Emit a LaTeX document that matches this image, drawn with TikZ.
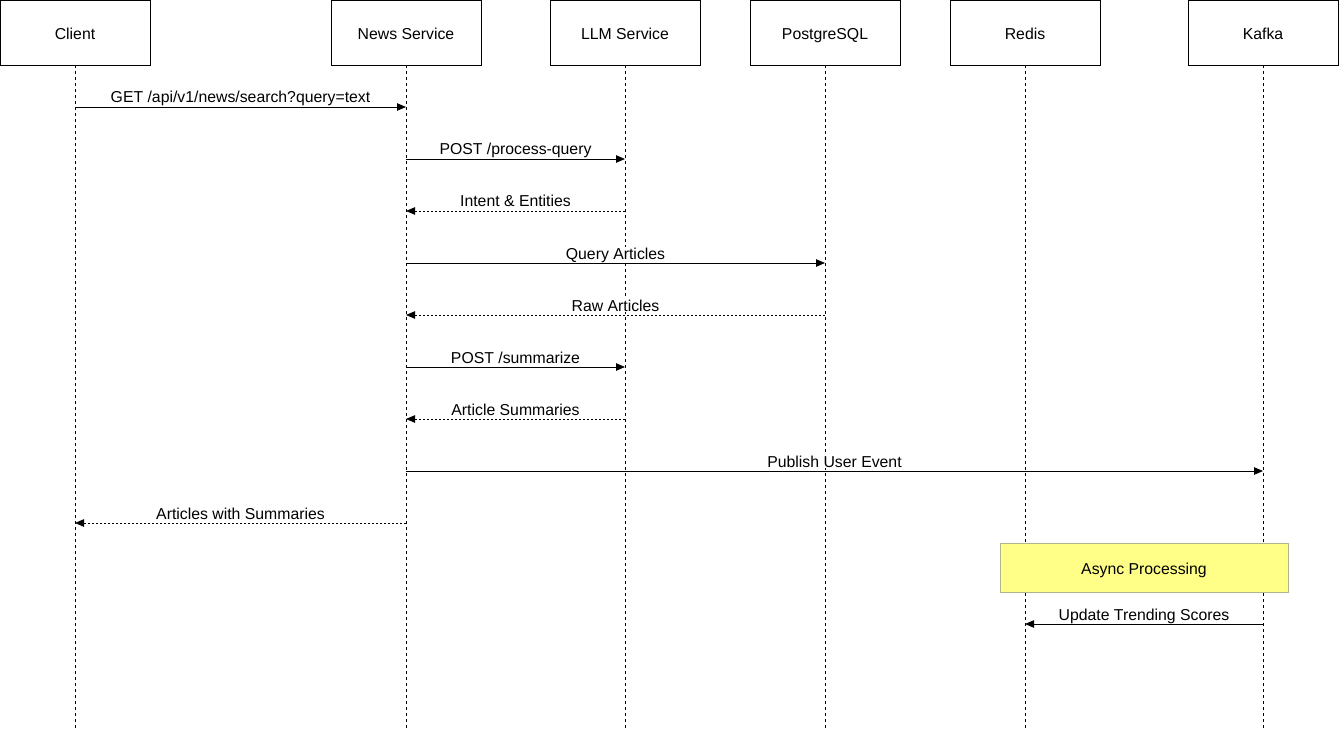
\documentclass[tikz,border=0pt]{standalone}
\usepackage{fontspec}
\setmainfont{Liberation Sans}
\usetikzlibrary{arrows.meta}
\begin{document}
\begin{tikzpicture}[x=1pt,y=-1pt,
  font=\fontsize{15.8}{18}\selectfont,
  actor/.style={draw=black,line width=0.8pt,fill=white,minimum width=150pt,minimum height=65pt,inner sep=0pt,text height=17.5pt,text depth=3.3pt},
  life/.style={line width=0.7pt,dash pattern=on 3pt off 3pt},
  msg/.style={line width=0.8pt,-{Triangle[length=9pt,width=7.5pt]}},
  ret/.style={msg,dash pattern=on 2pt off 2pt},
  lbl/.style={anchor=base,fill=white,inner sep=1pt,yshift=4pt},
  note/.style={draw={rgb,255:red,180;green,180;blue,140},fill={rgb,255:red,255;green,255;blue,136},line width=0.8pt,minimum width=288pt,minimum height=49pt,inner sep=0pt,text height=17.5pt,text depth=3.3pt}]
\useasboundingbox (0,0) rectangle (1339,730);
% actors
\node[actor] (client) at (75,32.5) {Client};
\node[actor] (news) at (406,32.5) {News Service};
\node[actor] (llm) at (625,32.5) {LLM Service};
\node[actor] (pg) at (825,32.5) {PostgreSQL};
\node[actor] (redis) at (1025,32.5) {Redis};
\node[actor] (kafka) at (1263,32.5) {Kafka};
% lifeline ends
\coordinate (clientE) at (75,730);
\coordinate (newsE) at (406,730);
\coordinate (llmE) at (625,730);
\coordinate (pgE) at (825,730);
\coordinate (redisE) at (1025,730);
\coordinate (kafkaE) at (1263,730);
\draw[life] (client.south) -- (clientE);
\draw[life] (news.south) -- (newsE);
\draw[life] (llm.south) -- (llmE);
\draw[life] (pg.south) -- (pgE);
\draw[life] (redis.south) -- (redisE);
\draw[life] (kafka.south) -- (kafkaE);
% messages
\draw[msg] (client.south |- 0,107) -- node[lbl]{GET /api/v1/news/search?query=text} (news.south |- 0,107);
\draw[msg] (news.south |- 0,159) -- node[lbl]{POST /process-query} (llm.south |- 0,159);
\draw[ret] (llm.south |- 0,211) -- node[lbl]{Intent \& Entities} (news.south |- 0,211);
\draw[msg] (news.south |- 0,263) -- node[lbl]{Query Articles} (pg.south |- 0,263);
\draw[ret] (pg.south |- 0,315) -- node[lbl]{Raw Articles} (news.south |- 0,315);
\draw[msg] (news.south |- 0,367) -- node[lbl]{POST /summarize} (llm.south |- 0,367);
\draw[ret] (llm.south |- 0,419) -- node[lbl]{Article Summaries} (news.south |- 0,419);
\draw[msg] (news.south |- 0,471) -- node[lbl]{Publish User Event} (kafka.south |- 0,471);
\draw[ret] (news.south |- 0,523) -- node[lbl]{Articles with Summaries} (client.south |- 0,523);
% note
\node[note] (async) at (1144,567.5) {Async Processing};
\draw[msg] (kafka.south |- 0,624) -- node[lbl]{Update Trending Scores} (redis.south |- 0,624);
\end{tikzpicture}
\end{document}
